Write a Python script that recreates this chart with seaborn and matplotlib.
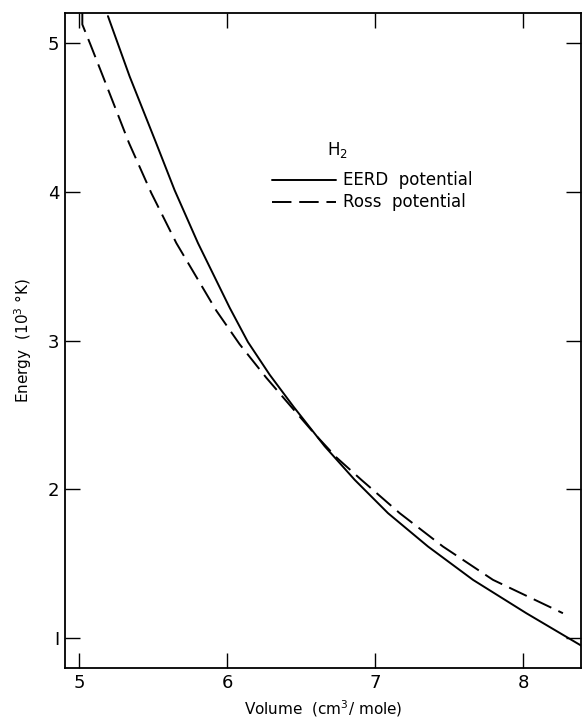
import matplotlib
matplotlib.use("Agg")
import matplotlib.pyplot as plt
import seaborn as sns
import pandas as pd

# Data
eerd_volume = [5.196, 5.342, 5.518, 5.646, 5.804, 6.018, 6.141, 6.288, 6.450,
               6.659, 6.862, 7.087, 7.357, 7.661, 8.021, 8.392]
eerd_energy = [5.179, 4.775, 4.335, 4.010, 3.654, 3.220, 2.990, 2.770, 2.554,
               2.290, 2.064, 1.840, 1.616, 1.392, 1.168, 0.950]
ross_volume = [5.023, 5.023, 5.077, 5.162, 5.338, 5.489, 5.658, 5.928, 6.085,
               6.265, 6.434, 6.592, 6.738, 6.907, 7.166, 7.458, 7.796, 8.268]
ross_energy = [5.200, 5.123, 4.990, 4.775, 4.327, 3.990, 3.654, 3.200, 2.975,
               2.750, 2.554, 2.372, 2.215, 2.064, 1.840, 1.616, 1.392, 1.168]
x_ticks = [5, 6, 7, 8]
y_ticks = [1, 2, 3, 4, 5]
y_ticklabels = ["I", "2", "3", "4", "5"]

sns.set_style("ticks")
plt.rcParams['font.family'] = ['DejaVu Sans']
plt.rcParams['text.color'] = 'black'
plt.rcParams['axes.labelcolor'] = 'black'

df_e = pd.DataFrame({"Volume": eerd_volume, "Energy": eerd_energy})
df_r = pd.DataFrame({"Volume": ross_volume, "Energy": ross_energy})

fig = plt.figure(figsize=(5.82, 7.19), dpi=100)
ax = fig.add_axes([65/582, 1-668/719, 516/582, 655/719])

lw = 1.4
sns.lineplot(data=df_e, x="Volume", y="Energy", sort=False, estimator=None,
             color="black", lw=lw, ax=ax)
sns.lineplot(data=df_r, x="Volume", y="Energy", sort=False, estimator=None,
             color="black", lw=lw, ax=ax)
ax.lines[-1].set_dashes((10, 4))

ax.set_xlim(4.906, 8.39)
ax.set_ylim(0.80, 5.20)
ax.set_xticks(x_ticks)
ax.set_yticks(y_ticks)
ax.set_yticklabels(y_ticklabels)
ax.tick_params(direction="in", length=11, width=1.0, labelsize=13,
               top=True, right=True, pad=4, colors="black")
for s in ax.spines.values():
    s.set_visible(True)
    s.set_linewidth(1.3)
    s.set_color("black")

ax.set_xlabel("Volume  (cm$^3$/ mole)", fontsize=11, labelpad=5)
ax.set_ylabel("Energy  (10$^3$ °K)", fontsize=11, labelpad=10)

# Legend drawn manually
ax.text(0.508, 0.791, "H$_2$", transform=ax.transAxes, fontsize=12,
        ha="left", va="center")
ax.plot([0.401, 0.525], [0.745, 0.745], transform=ax.transAxes,
        color="black", lw=lw)
leg2, = ax.plot([0.401, 0.525], [0.711, 0.711], transform=ax.transAxes,
                color="black", lw=lw)
leg2.set_dashes((10, 4))
ax.text(0.539, 0.745, "EERD  potential", transform=ax.transAxes, fontsize=12,
        ha="left", va="center")
ax.text(0.539, 0.711, "Ross  potential", transform=ax.transAxes, fontsize=12,
        ha="left", va="center")

fig.savefig("out.png", dpi=100)
